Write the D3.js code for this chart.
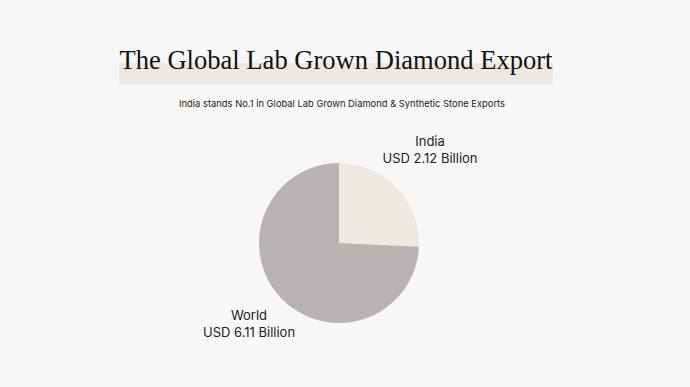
<!DOCTYPE html>
<html lang="en">
<head>
  <meta charset="UTF-8">
  <title>The Global Lab Grown Diamond Export</title>
  <script src="https://d3js.org/d3.v7.min.js"></script>
  <style>
    html, body {
      margin: 0;
      padding: 0;
      background: #f8f7f7;
    }
    svg { display: block; }
  </style>
</head>
<body>
<div id="chart"></div>

<script>
  const countries = ["India", "World"];
  const values = [2.12, 6.11];
  const labelLines = [["India", "USD 2.12 Billion"], ["World", "USD 6.11 Billion"]];
  const colors = ["#ede9e2", "#b8b3b2"];

  const width = 690;
  const height = 387;
  const cx = 339;
  const cy = 243;
  const radius = 80;

  const svg = d3.select("#chart").append("svg")
    .attr("width", width)
    .attr("height", height);

  // title with highlight bar underneath
  svg.append("rect")
    .attr("x", 119)
    .attr("y", 63)
    .attr("width", 434)
    .attr("height", 22)
    .attr("fill", "#ede9e2");

  svg.append("text")
    .attr("x", 336)
    .attr("y", 69)
    .attr("text-anchor", "middle")
    .attr("font-family", "'Liberation Serif', serif")
    .attr("font-size", 27)
    .attr("fill", "#111")
    .attr("textLength", 433)
    .attr("lengthAdjust", "spacingAndGlyphs")
    .text("The Global Lab Grown Diamond Export");

  svg.append("text")
    .attr("x", 342)
    .attr("y", 107)
    .attr("text-anchor", "middle")
    .attr("font-family", "Inter, sans-serif")
    .attr("font-size", 9.5)
    .attr("fill", "#222")
    .attr("textLength", 326)
    .attr("lengthAdjust", "spacingAndGlyphs")
    .text("India stands No.1 in Global Lab Grown Diamond & Synthetic Stone Exports");

  const data = countries.map((c, i) => ({ name: c, value: values[i], lines: labelLines[i], color: colors[i] }));

  const pie = d3.pie()
    .value(d => d.value)
    .sort(null);

  const arc = d3.arc()
    .innerRadius(0)
    .outerRadius(radius);

  const g = svg.append("g")
    .attr("transform", `translate(${cx},${cy})`);

  const arcs = pie(data);

  g.selectAll("path")
    .data(arcs)
    .join("path")
    .attr("d", arc)
    .attr("fill", d => d.data.color);

  // labels sit outside the slices
  const labelPos = [[91, -97], [-90, 77]];

  const labels = g.selectAll("g.label")
    .data(arcs)
    .join("g")
    .attr("class", "label")
    .attr("transform", (d, i) => `translate(${labelPos[i][0]},${labelPos[i][1]})`)
    .attr("font-family", "Inter, sans-serif")
    .attr("font-size", 13)
    .attr("fill", "#222")
    .attr("text-anchor", "middle");

  labels.selectAll("text")
    .data(d => d.data.lines)
    .join("text")
    .attr("y", (d, i) => i * 17)
    .text(d => d);
</script>

</body>
</html>
